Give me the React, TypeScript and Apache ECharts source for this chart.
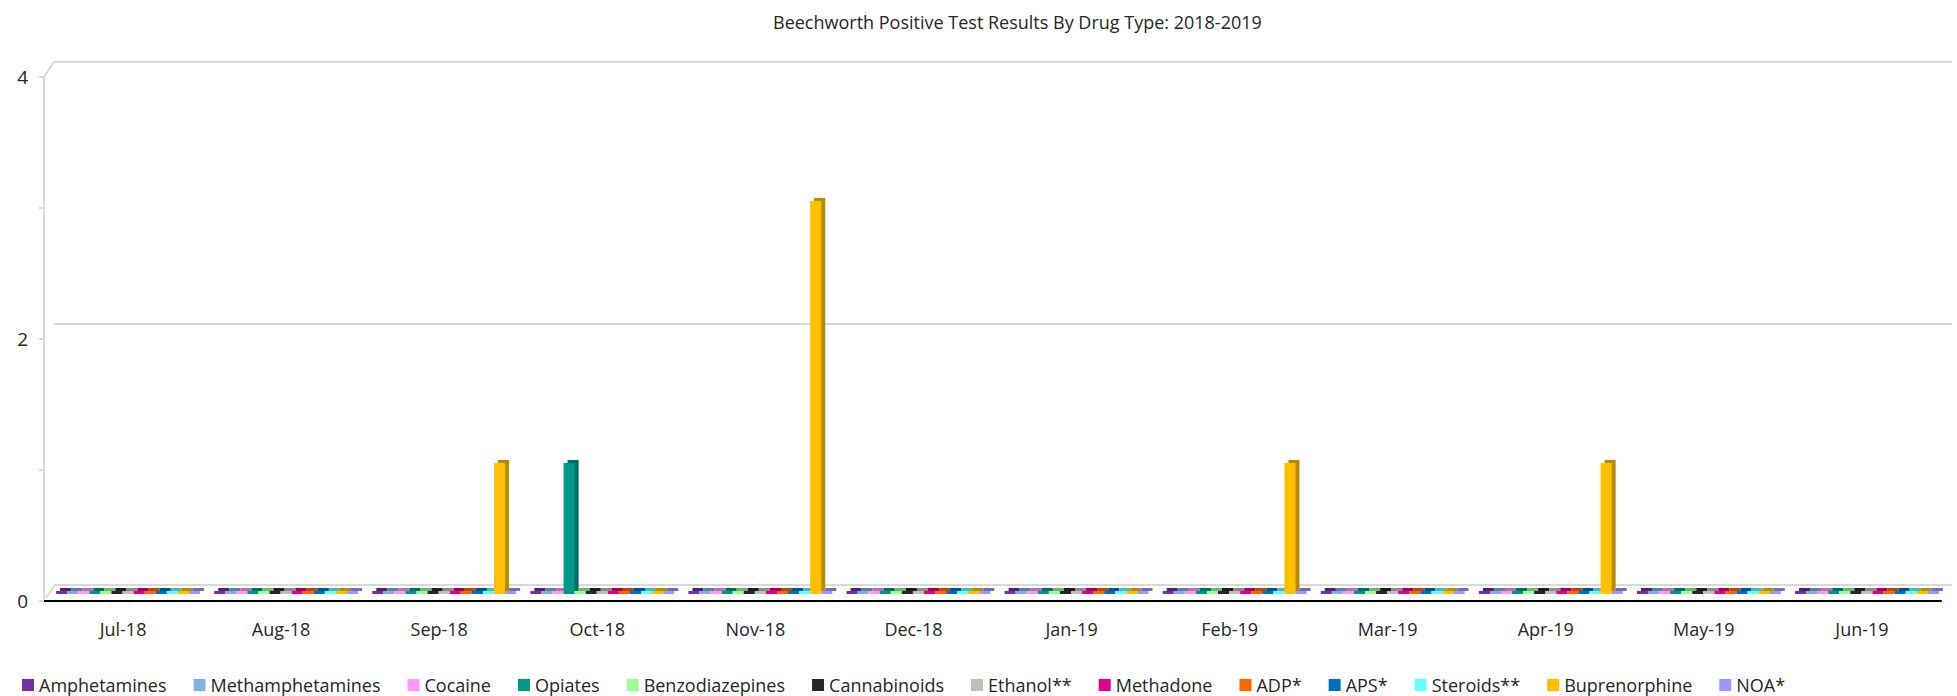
import React, { useEffect, useRef } from "react";
import * as echarts from "echarts";

const categories = ["Jul-18", "Aug-18", "Sep-18", "Oct-18", "Nov-18", "Dec-18", "Jan-19", "Feb-19", "Mar-19", "Apr-19", "May-19", "Jun-19"];

const amphetamines = [0, 0, 0, 0, 0, 0, 0, 0, 0, 0, 0, 0];
const methamphetamines = [0, 0, 0, 0, 0, 0, 0, 0, 0, 0, 0, 0];
const cocaine = [0, 0, 0, 0, 0, 0, 0, 0, 0, 0, 0, 0];
const opiates = [0, 0, 0, 1, 0, 0, 0, 0, 0, 0, 0, 0];
const benzodiazepines = [0, 0, 0, 0, 0, 0, 0, 0, 0, 0, 0, 0];
const cannabinoids = [0, 0, 0, 0, 0, 0, 0, 0, 0, 0, 0, 0];
const ethanol = [0, 0, 0, 0, 0, 0, 0, 0, 0, 0, 0, 0];
const methadone = [0, 0, 0, 0, 0, 0, 0, 0, 0, 0, 0, 0];
const adp = [0, 0, 0, 0, 0, 0, 0, 0, 0, 0, 0, 0];
const aps = [0, 0, 0, 0, 0, 0, 0, 0, 0, 0, 0, 0];
const steroids = [0, 0, 0, 0, 0, 0, 0, 0, 0, 0, 0, 0];
const buprenorphine = [0, 0, 1, 0, 3, 0, 0, 1, 0, 1, 0, 0];
const noa = [0, 0, 0, 0, 0, 0, 0, 0, 0, 0, 0, 0];

const yTicks = [0, 2, 4];

const seriesDefs = [
  { name: "Amphetamines", data: amphetamines, color: "#7030A0" },
  { name: "Methamphetamines", data: methamphetamines, color: "#7FB0E0" },
  { name: "Cocaine", data: cocaine, color: "#FF99F5" },
  { name: "Opiates", data: opiates, color: "#009688" },
  { name: "Benzodiazepines", data: benzodiazepines, color: "#99FF99" },
  { name: "Cannabinoids", data: cannabinoids, color: "#262626" },
  { name: "Ethanol**", data: ethanol, color: "#BFBFBF" },
  { name: "Methadone", data: methadone, color: "#E0008C" },
  { name: "ADP*", data: adp, color: "#FF6600" },
  { name: "APS*", data: aps, color: "#0070C0" },
  { name: "Steroids**", data: steroids, color: "#66FFFF" },
  { name: "Buprenorphine", data: buprenorphine, color: "#FFC000" },
  { name: "NOA*", data: noa, color: "#9999FF" },
];

function darken(hex: string, f: number) {
  const n = parseInt(hex.slice(1), 16);
  const r = Math.round(((n >> 16) & 255) * f);
  const g = Math.round(((n >> 8) & 255) * f);
  const b = Math.round((n & 255) * f);
  return `rgb(${r},${g},${b})`;
}

const FONT = "'Open Sans', 'Noto Sans', sans-serif";
const GRIDLINE = "#D9D9D9";

export default function App() {
  const ref = useRef<HTMLDivElement>(null);
  useEffect(() => {
    if (!ref.current) return;
    const chart = echarts.init(ref.current, null, { renderer: "svg" });
    const option: any = {
      animation: false,
      backgroundColor: "#ffffff",
      title: {
        text: "Beechworth Positive Test Results By Drug Type: 2018-2019",
        left: 768,
        top: 8,
        textStyle: { fontFamily: FONT, fontSize: 18, fontWeight: "normal", color: "#262626" },
      },
      legend: {
        left: 17,
        top: 671,
        icon: "rect",
        itemWidth: 12,
        itemHeight: 12,
        itemGap: 27,
        textStyle: { fontFamily: FONT, fontSize: 18, color: "#262626" },
        data: seriesDefs.map((s) => s.name),
      },
      grid: [
        { left: 54, top: 62, right: 5, height: 523 },
        { left: 44, top: 77, right: 16, height: 524 },
        { left: 49, top: 70, right: 11, height: 524 },
      ],
      xAxis: [
        { type: "category", gridIndex: 0, data: categories, show: false },
        {
          type: "category",
          gridIndex: 1,
          data: categories,
          axisLine: { lineStyle: { color: "#000", width: 2 } },
          axisTick: { length: 7, lineStyle: { color: "#000", width: 2 } },
          axisLabel: { fontFamily: FONT, fontSize: 18, color: "#262626", margin: 19 },
        },
        {
          type: "category",
          gridIndex: 1,
          data: categories,
          position: "bottom",
          axisLine: { show: false },
          axisTick: { inside: true, length: 8, lineStyle: { color: "#000", width: 2 } },
          axisLabel: { show: false },
        },
        { type: "category", gridIndex: 2, data: categories, show: false },
      ],
      yAxis: [
        {
          type: "value",
          gridIndex: 0,
          min: 0,
          max: 4,
          interval: 2,
          axisLine: { show: false },
          axisTick: { show: false },
          axisLabel: { show: false },
          splitLine: { lineStyle: { color: GRIDLINE, width: 2 } },
        },
        {
          type: "value",
          gridIndex: 1,
          min: 0,
          max: 4,
          interval: 2,
          axisLine: { show: true, lineStyle: { color: GRIDLINE, width: 2 } },
          axisTick: { show: true, length: 5, lineStyle: { color: GRIDLINE, width: 2 } },
          minorTick: { show: true, splitNumber: 2, length: 5, lineStyle: { color: GRIDLINE, width: 2 } },
          axisLabel: {
            fontFamily: FONT,
            fontSize: 19,
            color: "#262626",
            margin: 16,
            formatter: (v: number) => (yTicks.includes(v) ? String(v) : ""),
          },
          splitLine: { show: false },
        },
        { type: "value", gridIndex: 2, min: 0, max: 4, show: false, splitLine: { show: false } },
      ],
      graphic: [
        {
          type: "line",
          shape: { x1: 44, y1: 77, x2: 54, y2: 62 },
          style: { stroke: GRIDLINE, lineWidth: 2 },
          silent: true,
        },
        {
          type: "line",
          shape: { x1: 46, y1: 598, x2: 55, y2: 585 },
          style: { stroke: GRIDLINE, lineWidth: 2 },
          silent: true,
        },
      ],
      series: seriesDefs.map((s) => ({
        name: s.name,
        type: "bar",
        xAxisIndex: 3,
        yAxisIndex: 2,
        data: s.data,
        barGap: "0%",
        barCategoryGap: "9%",
        barMinHeight: 3,
        itemStyle: {
          color: s.color,
          shadowColor: darken(s.color, 0.72),
          shadowOffsetX: 4,
          shadowOffsetY: -3,
          shadowBlur: 0,
        },
      })),
    };
    chart.setOption(option);
    return () => chart.dispose();
  }, []);
  return <div ref={ref} style={{ position: "absolute", left: 0, top: 0, width: 1957, height: 696 }} />;
}
